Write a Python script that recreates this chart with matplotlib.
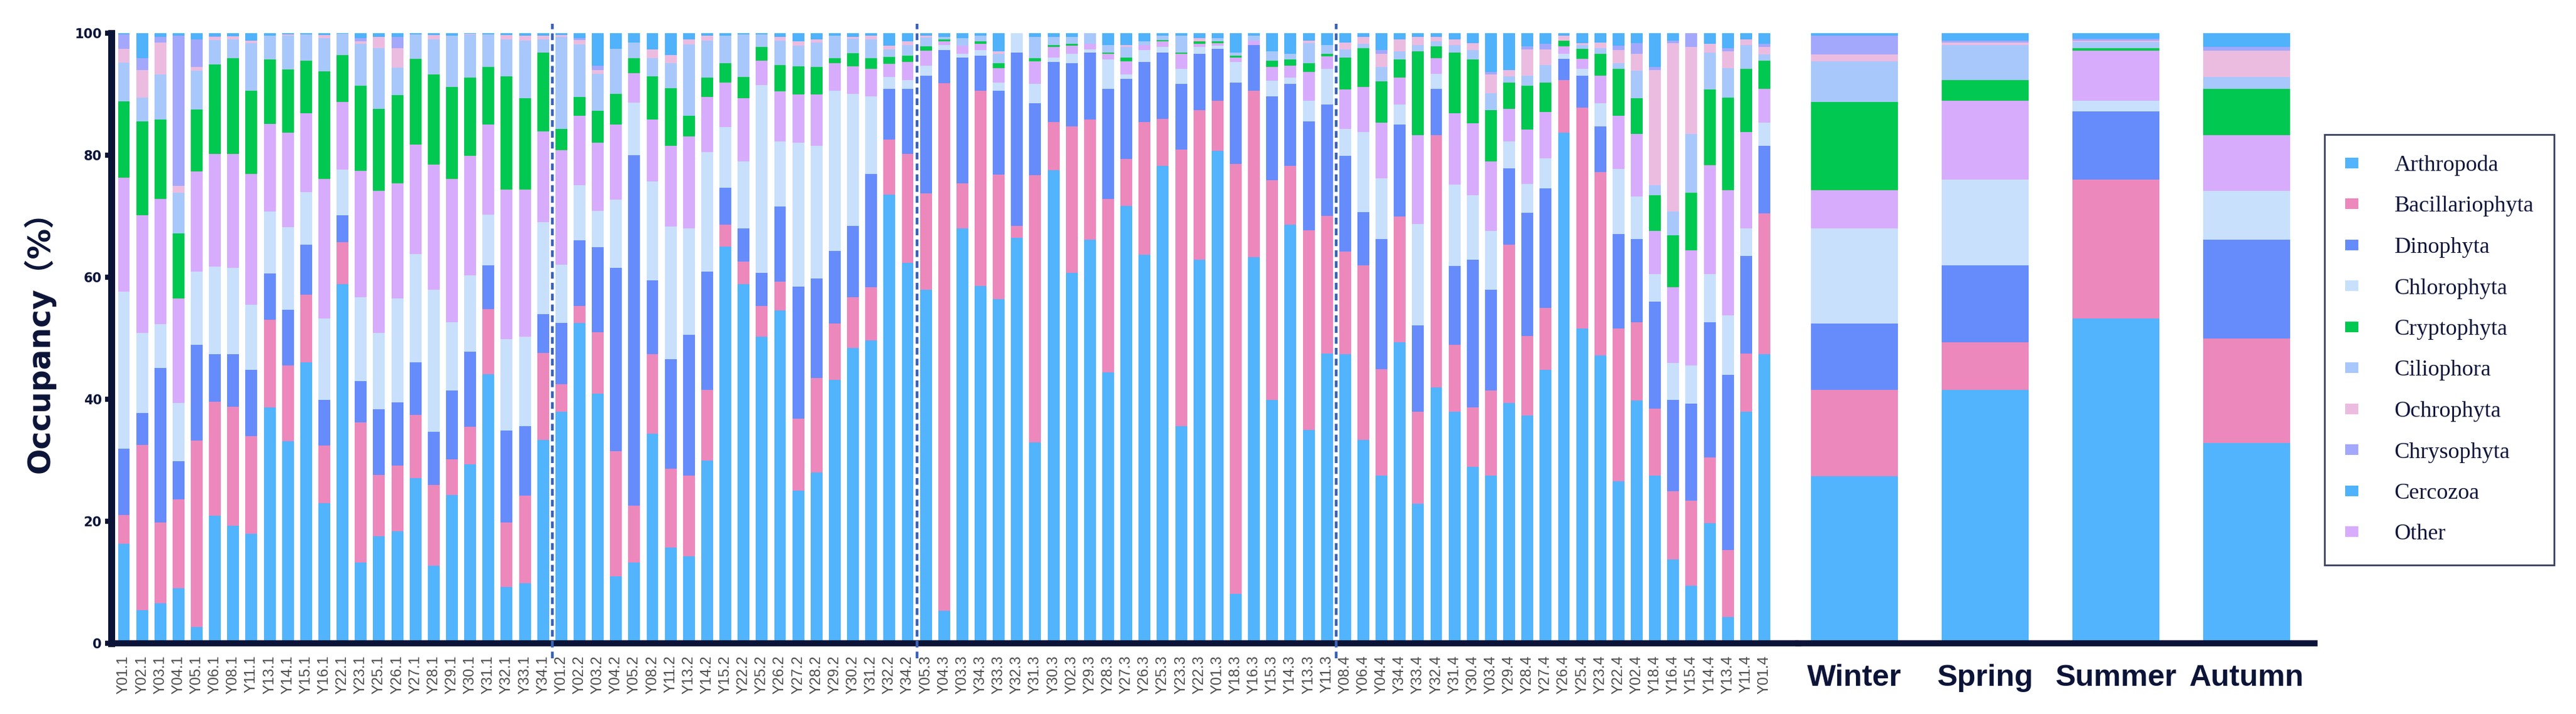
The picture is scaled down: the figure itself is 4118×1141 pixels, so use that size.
import numpy as np
import matplotlib
matplotlib.use("Agg")
import matplotlib.pyplot as plt
from matplotlib import font_manager
from matplotlib.patches import Patch

# sample names, in the order they are plotted (four sampling rounds)
sites_1 = ["Y01.1", "Y02.1", "Y03.1", "Y04.1", "Y05.1", "Y06.1", "Y08.1", "Y11.1",
           "Y13.1", "Y14.1", "Y15.1", "Y16.1", "Y22.1", "Y23.1", "Y25.1", "Y26.1",
           "Y27.1", "Y28.1", "Y29.1", "Y30.1", "Y31.1", "Y32.1", "Y33.1", "Y34.1"]
sites_2 = ["Y01.2", "Y02.2", "Y03.2", "Y04.2", "Y05.2", "Y08.2", "Y11.2", "Y13.2",
           "Y14.2", "Y15.2", "Y22.2", "Y25.2", "Y26.2", "Y27.2", "Y28.2", "Y29.2",
           "Y30.2", "Y31.2", "Y32.2", "Y34.2"]
sites_3 = ["Y05.3", "Y04.3", "Y03.3", "Y34.3", "Y33.3", "Y32.3", "Y31.3", "Y30.3",
           "Y02.3", "Y29.3", "Y28.3", "Y27.3", "Y26.3", "Y25.3", "Y23.3", "Y22.3",
           "Y01.3", "Y18.3", "Y16.3", "Y15.3", "Y14.3", "Y13.3", "Y11.3"]
sites_4 = ["Y08.4", "Y06.4", "Y04.4", "Y34.4", "Y33.4", "Y32.4", "Y31.4", "Y30.4",
           "Y03.4", "Y29.4", "Y28.4", "Y27.4", "Y26.4", "Y25.4", "Y23.4", "Y22.4",
           "Y02.4", "Y18.4", "Y16.4", "Y15.4", "Y14.4", "Y13.4", "Y11.4", "Y01.4"]
sample_labels = sites_1 + sites_2 + sites_3 + sites_4

# occupancy (%) per phylum, one value per sample
arthropoda = [16.3, 5.4, 6.6, 9.0, 2.7, 20.9, 19.3, 18.0, 38.7, 33.1, 46.1, 23.0, 58.9, 13.2, 17.5, 18.4, 27.1, 12.7, 24.3, 29.3, 44.1, 9.2, 9.8, 33.3,
              37.9, 52.5, 40.9, 11.0, 13.2, 34.4, 15.7, 14.3, 29.9, 65.0, 58.9, 50.3, 54.6, 25.0, 28.0, 43.2, 48.4, 49.6, 73.5, 62.4,
              58.0, 5.3, 68.0, 58.6, 56.4, 66.5, 32.9, 77.5, 60.7, 66.2, 44.4, 71.7, 63.7, 78.3, 35.6, 62.9, 80.7, 8.1, 63.3, 39.9, 68.6, 35.0, 47.5,
              47.4, 33.3, 27.5, 49.3, 22.9, 41.9, 37.9, 28.9, 27.5, 39.4, 37.3, 44.8, 83.7, 51.6, 47.2, 26.6, 39.8, 27.5, 13.7, 9.4, 19.7, 4.3, 38.0, 47.4]
bacillariophyta = [4.7, 27.1, 13.2, 14.6, 30.5, 18.7, 19.5, 16.0, 14.3, 12.4, 11.0, 9.4, 6.8, 23.0, 10.1, 10.7, 10.3, 13.2, 5.9, 6.2, 10.7, 10.6, 14.4, 14.3,
                   4.6, 2.8, 10.1, 20.5, 9.4, 13.0, 12.9, 13.2, 11.6, 3.6, 3.7, 5.0, 4.7, 11.8, 15.5, 9.2, 8.3, 8.8, 9.1, 17.8,
                   15.7, 86.5, 7.4, 32.0, 20.4, 1.9, 43.8, 7.9, 24.0, 19.6, 28.4, 7.7, 21.7, 7.6, 45.3, 24.5, 8.2, 70.5, 27.3, 36.0, 9.7, 32.7, 22.6,
                   16.8, 28.7, 17.4, 20.7, 15.0, 41.4, 11.0, 9.8, 13.9, 25.9, 13.1, 10.2, 8.6, 36.2, 30.0, 25.0, 12.8, 11.0, 11.2, 14.0, 10.8, 11.0, 9.5, 23.1]
dinophyta = [10.9, 5.2, 25.3, 6.2, 15.7, 7.8, 8.6, 10.8, 7.6, 9.2, 8.2, 7.5, 4.5, 6.8, 10.8, 10.4, 8.7, 8.8, 11.2, 12.3, 7.2, 15.1, 11.4, 6.3,
             10.0, 10.8, 13.9, 30.0, 57.4, 12.1, 18.0, 23.1, 19.4, 6.1, 5.4, 5.4, 12.3, 21.7, 16.3, 11.9, 11.7, 18.5, 8.3, 10.7,
             19.3, 5.4, 20.6, 5.7, 13.8, 28.4, 11.8, 9.9, 10.4, 11.0, 18.1, 13.1, 9.9, 10.9, 10.8, 9.2, 8.5, 13.3, 7.5, 13.7, 13.4, 17.8, 18.2,
             15.7, 8.7, 21.4, 15.0, 14.2, 7.6, 12.9, 24.2, 16.6, 12.5, 20.2, 19.6, 3.5, 5.2, 7.5, 15.5, 13.7, 17.5, 15.0, 15.9, 22.1, 28.7, 16.0, 11.0]
chlorophyta = [25.7, 13.2, 7.2, 9.6, 12.0, 14.3, 14.1, 10.7, 10.2, 13.5, 8.7, 13.3, 7.4, 13.7, 12.5, 17.0, 17.7, 23.2, 11.2, 12.5, 8.3, 14.9, 14.7, 15.1,
               9.6, 9.0, 6.0, 11.2, 8.6, 16.2, 21.7, 17.4, 19.6, 9.9, 11.0, 30.8, 10.7, 23.6, 21.7, 26.3, 21.7, 12.7, 1.9, 1.4,
               1.7, 0.9, 0.6, 0.9, 1.3, 3.2, 3.2, 0.7, 1.5, 0.5, 4.8, 0.7, 1.9, 0.9, 2.5, 1.1, 0.5, 3.4, 0.0, 2.6, 1.0, 3.4, 5.9,
               4.4, 13.1, 9.9, 3.3, 16.6, 2.4, 13.4, 10.5, 9.6, 4.5, 4.7, 4.9, 0.8, 1.2, 3.8, 10.6, 6.9, 4.5, 6.0, 6.2, 7.9, 9.7, 4.5, 3.8]
other = [18.7, 19.3, 20.5, 17.1, 16.4, 18.5, 18.7, 21.4, 14.3, 15.5, 12.9, 22.9, 11.1, 20.7, 23.3, 18.9, 17.9, 20.6, 23.5, 19.6, 14.7, 24.6, 24.1, 14.9,
         18.7, 11.4, 11.2, 12.3, 4.8, 10.1, 13.2, 15.1, 9.0, 7.3, 10.3, 4.0, 8.2, 7.8, 8.4, 4.5, 4.5, 4.6, 2.2, 3.0,
         2.4, 0.6, 1.3, 1.1, 2.4, 0.0, 3.7, 1.7, 1.3, 1.0, 0.9, 2.2, 0.9, 1.0, 2.4, 0.6, 0.5, 0.7, 0.7, 2.3, 2.0, 4.7, 2.0,
         6.5, 7.4, 9.1, 4.4, 14.6, 2.6, 11.7, 11.8, 11.4, 5.3, 8.9, 7.6, 1.2, 1.6, 4.5, 8.8, 10.3, 7.1, 12.5, 18.9, 17.9, 20.6, 15.8, 5.6]
cryptophyta = [12.5, 15.3, 13.0, 10.7, 10.2, 14.7, 15.7, 13.7, 10.6, 10.4, 8.6, 17.6, 7.7, 14.0, 13.4, 14.4, 14.1, 14.7, 15.1, 12.8, 9.5, 18.5, 14.9, 12.9,
               3.5, 3.0, 5.2, 5.1, 2.5, 7.1, 9.5, 3.4, 3.2, 3.2, 3.5, 2.2, 4.3, 4.7, 4.6, 0.8, 2.1, 1.7, 1.1, 1.0,
               0.7, 0.3, 0.0, 0.4, 0.8, 0.0, 0.5, 0.4, 0.4, 0.0, 0.2, 0.6, 0.0, 0.2, 0.2, 0.4, 0.3, 0.3, 0.0, 1.0, 1.0, 1.5, 0.4,
               5.2, 6.3, 6.8, 3.0, 13.7, 1.9, 9.9, 10.5, 8.4, 4.3, 7.2, 4.8, 1.0, 1.6, 3.6, 7.7, 5.8, 5.8, 8.5, 9.4, 12.4, 15.1, 10.4, 4.6]
ciliophora = [6.4, 3.9, 7.4, 6.6, 6.3, 4.0, 3.1, 7.8, 3.9, 5.5, 4.3, 5.5, 3.5, 6.9, 9.9, 4.6, 4.0, 5.8, 8.4, 7.1, 5.3, 6.1, 9.5, 2.2,
              15.1, 8.7, 6.0, 7.3, 2.6, 3.0, 4.1, 11.7, 6.1, 4.5, 7.0, 2.1, 4.0, 3.4, 4.0, 3.7, 2.4, 3.1, 1.2, 1.8,
              1.5, 0.4, 1.3, 0.9, 1.5, 0.0, 3.5, 1.3, 1.1, 1.7, 1.3, 1.7, 0.6, 0.7, 2.8, 0.0, 0.5, 0.5, 0.8, 1.5, 0.9, 3.3, 1.5,
              1.3, 0.8, 2.4, 1.3, 1.1, 0.9, 1.3, 1.5, 2.8, 1.0, 1.6, 2.9, 0.0, 0.7, 0.9, 0.9, 4.5, 1.7, 3.9, 9.7, 6.0, 4.9, 3.9, 1.0]
ochrophyta = [2.2, 4.5, 5.3, 1.2, 0.7, 0.5, 0.5, 0.4, 0.0, 0.2, 0.0, 0.5, 0.0, 0.4, 1.9, 3.1, 0.0, 0.7, 0.0, 0.1, 0.0, 0.7, 0.8, 0.6,
              0.3, 0.7, 0.6, 0.0, 0.0, 1.4, 1.3, 0.8, 0.8, 0.0, 0.0, 0.0, 0.6, 0.7, 0.5, 0.0, 0.3, 0.6, 0.6, 0.6,
              0.3, 0.0, 0.0, 0.0, 0.4, 0.0, 0.0, 0.0, 0.0, 0.0, 0.0, 0.4, 0.0, 0.0, 0.0, 0.5, 0.0, 0.0, 0.0, 0.0, 0.0, 0.4, 0.0,
              1.2, 1.1, 2.1, 2.0, 1.3, 0.7, 0.9, 1.2, 3.0, 1.0, 4.3, 2.5, 0.8, 0.3, 1.0, 2.1, 2.8, 18.9, 27.6, 14.2, 1.5, 2.7, 0.9, 1.2]
chrysophyta = [2.4, 2.0, 0.9, 24.6, 4.5, 0.1, 0.0, 0.0, 0.0, 0.0, 0.0, 0.0, 0.0, 0.5, 0.0, 1.9, 0.0, 0.0, 0.0, 0.0, 0.0, 0.0, 0.0, 0.0,
               0.0, 0.3, 0.8, 0.0, 0.0, 0.0, 0.0, 0.0, 0.0, 0.0, 0.0, 0.0, 0.0, 0.0, 0.0, 0.0, 0.0, 0.0, 0.0, 0.0,
               0.0, 0.0, 0.0, 0.0, 0.0, 0.0, 0.0, 0.0, 0.0, 0.0, 0.0, 0.0, 0.0, 0.0, 0.0, 0.0, 0.0, 0.0, 0.0, 0.0, 0.0, 0.0, 0.0,
               0.0, 0.0, 0.6, 0.0, 0.0, 0.0, 0.0, 0.0, 0.4, 0.0, 0.5, 1.0, 0.0, 0.0, 0.0, 0.7, 1.8, 0.5, 0.4, 2.3, 0.0, 0.5, 0.0, 0.6]
cercozoa = [0.2, 4.1, 0.6, 0.4, 1.0, 0.5, 0.5, 1.2, 0.4, 0.2, 0.2, 0.3, 0.1, 0.8, 0.6, 0.6, 0.2, 0.3, 0.4, 0.1, 0.2, 0.3, 0.4, 0.4,
            0.3, 0.8, 5.3, 2.6, 1.5, 2.7, 3.6, 1.0, 0.4, 0.4, 0.2, 0.2, 0.6, 1.3, 1.0, 0.4, 0.6, 0.4, 2.1, 1.3,
            0.4, 0.6, 0.8, 0.4, 3.0, 0.0, 0.6, 0.6, 0.6, 0.0, 1.9, 1.9, 1.3, 0.4, 0.4, 0.8, 0.8, 3.2, 0.4, 3.0, 3.4, 1.2, 1.9,
            1.5, 0.6, 2.8, 1.0, 0.6, 0.6, 1.0, 1.6, 6.4, 6.1, 2.2, 1.7, 0.4, 1.6, 1.5, 2.1, 1.6, 5.5, 1.2, 0.0, 1.7, 2.5, 1.0, 1.7]

# seasonal means
seasons = ["Winter", "Spring", "Summer", "Autumn"]
arthropoda_season = [27.4, 41.5, 53.2, 32.8]
bacillariophyta_season = [14.1, 7.8, 22.8, 17.1]
dinophyta_season = [10.9, 12.7, 11.2, 16.3]
chlorophyta_season = [15.6, 14.0, 1.7, 8.0]
other_season = [6.3, 12.9, 8.2, 9.1]
cryptophyta_season = [14.4, 3.4, 0.4, 7.6]
ciliophora_season = [6.7, 5.8, 1.1, 1.9]
ochrophyta_season = [1.1, 0.4, 0.2, 4.3]
chrysophyta_season = [3.1, 0.3, 0.3, 0.6]
cercozoa_season = [0.4, 1.2, 0.9, 2.3]

# stacking order (bottom -> top)
stack = [
    ("Arthropoda", arthropoda, arthropoda_season, "#52b4fc"),
    ("Bacillariophyta", bacillariophyta, bacillariophyta_season, "#ec88bc"),
    ("Dinophyta", dinophyta, dinophyta_season, "#668cfc"),
    ("Chlorophyta", chlorophyta, chlorophyta_season, "#c8e0fc"),
    ("Other", other, other_season, "#d8acfc"),
    ("Cryptophyta", cryptophyta, cryptophyta_season, "#00c850"),
    ("Ciliophora", ciliophora, ciliophora_season, "#a8c8fc"),
    ("Ochrophyta", ochrophyta, ochrophyta_season, "#ecbce0"),
    ("Chrysophyta", chrysophyta, chrysophyta_season, "#a4a8fc"),
    ("Cercozoa", cercozoa, cercozoa_season, "#4fb2fb"),
]
legend_order = ["Arthropoda", "Bacillariophyta", "Dinophyta", "Chlorophyta", "Cryptophyta",
                "Ciliophora", "Ochrophyta", "Chrysophyta", "Cercozoa", "Other"]

navy = "#0b1437"
W, H = 4118, 1141
fig = plt.figure(figsize=(W / 100, H / 100), dpi=100)

ax = fig.add_axes([178 / W, 113 / H, (2875 - 178) / W, 975 / H])
ax2 = fig.add_axes([2875 / W, 113 / H, (3700 - 2875) / W, 975 / H], sharey=ax)

x = np.arange(len(sample_labels))
xs = np.arange(len(seasons))
bottom = np.zeros(len(x))
bottom_s = np.zeros(len(xs))
colors = {}
for name, vals, svals, col in stack:
    ax.bar(x, vals, width=0.65, bottom=bottom, color=col, linewidth=0)
    ax2.bar(xs, svals, width=0.665, bottom=bottom_s, color=col, linewidth=0)
    bottom += np.array(vals)
    bottom_s += np.array(svals)
    colors[name] = col

ax.set_xlim(-0.686, 91.87)
ax.set_ylim(0, 100)
ax2.set_xlim(-0.426, 3.52)

# dashed separators between sampling rounds
n1, n2, n3 = len(sites_1), len(sites_2), len(sites_3)
for sep in [n1 - 0.5, n1 + n2 - 0.5, n1 + n2 + n3 - 0.5]:
    ax.plot([sep, sep], [-2.5, 101.5], color="#3a62b4", lw=3.2,
            linestyle=(0, (2.4, 1.5)), clip_on=False, zorder=5)

for a in (ax, ax2):
    for s in ("top", "right"):
        a.spines[s].set_visible(False)
    a.spines["bottom"].set_linewidth(7)
    a.spines["bottom"].set_color(navy)
ax.spines["left"].set_linewidth(8)
ax.spines["left"].set_color(navy)
ax2.spines["left"].set_visible(False)

ax.set_yticks([0, 20, 40, 60, 80, 100])
ax.tick_params(axis="y", length=7, width=6, color=navy, pad=4,
               labelsize=15, labelcolor=navy)
for t in ax.get_yticklabels():
    t.set_fontweight("heavy")

ax.set_xticks(x)
ax.set_xticklabels(sample_labels, rotation=90, fontsize=17, color="#4d4d4d",
                   family=["Liberation Sans", "DejaVu Sans"])
ax.tick_params(axis="x", length=0, pad=14)

ax2.tick_params(axis="y", left=False, labelleft=False)
ax2.set_xticks(xs)
ax2.set_xticklabels(seasons, fontsize=35, fontweight="bold", color=navy,
                    family=["Liberation Sans", "DejaVu Sans"])
ax2.tick_params(axis="x", length=0, pad=24)

# y label in a narrow bold face if available
try:
    font_manager.findfont(font_manager.FontProperties(family="Liberation Sans Narrow"),
                          fallback_to_default=False)
    ylab_family, ylab_size = ["Liberation Sans Narrow", "Noto Sans CJK SC"], 46
except Exception:
    ylab_family, ylab_size = ["DejaVu Sans", "Noto Sans CJK SC"], 35
fig.text(63 / W, 1 - 535 / H, "Occupancy（%）", rotation=90, ha="center", va="center",
         fontsize=ylab_size, fontweight="bold", color=navy, family=ylab_family)

handles = [Patch(facecolor=colors[n], edgecolor="none") for n in legend_order]
leg = fig.legend(handles, legend_order, loc="upper left",
                 bbox_to_anchor=(3716 / W, 1 - 215 / H), frameon=True, fancybox=False,
                 edgecolor=navy, prop={"family": ["Liberation Serif", "DejaVu Serif"], "size": 26},
                 labelspacing=0.9, handlelength=0.6, handleheight=0.35,
                 handletextpad=1.6, borderpad=0.9, borderaxespad=0)
leg.get_frame().set_linewidth(2)
for t in leg.get_texts():
    t.set_color("#10163a")

fig.savefig("out.png", dpi=100)
